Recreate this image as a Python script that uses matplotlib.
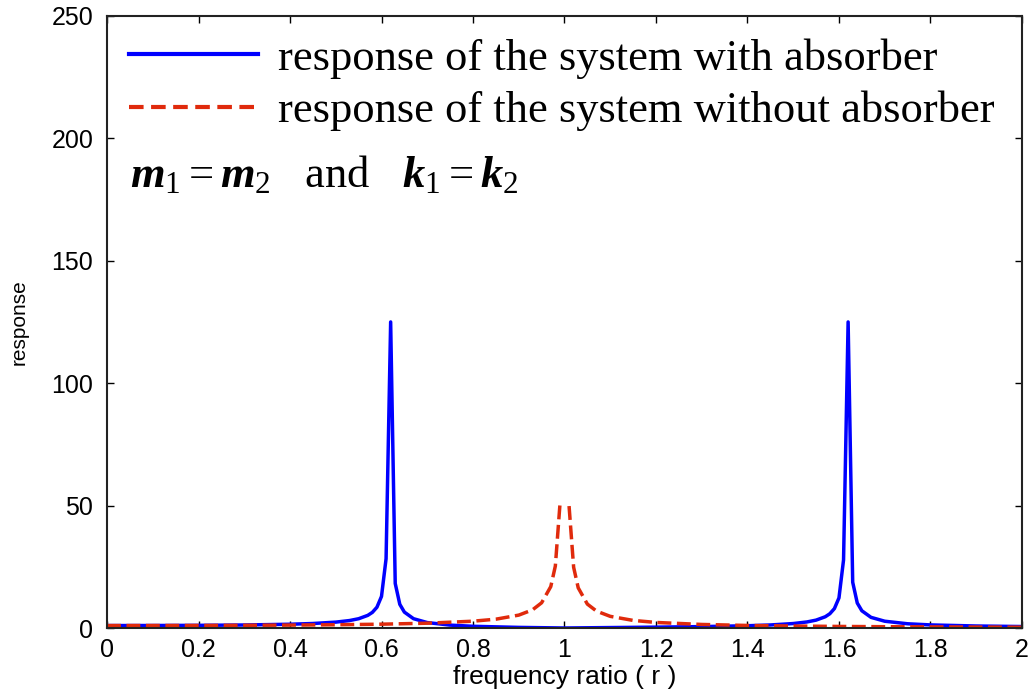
import numpy as np
import matplotlib
matplotlib.use('Agg')
import matplotlib.pyplot as plt
import matplotlib.ticker as ticker

plt.rcParams.update({
    'font.family': 'Liberation Sans',
    'mathtext.fontset': 'custom',
    'mathtext.rm': 'Liberation Serif',
    'mathtext.it': 'Liberation Serif:italic:bold',
})

# Data.
r_abs = [0, 0.1, 0.2, 0.3, 0.4, 0.45, 0.5, 0.53, 0.55, 0.57, 0.58, 0.59, 0.6,
         0.61, 0.62, 0.63, 0.64, 0.65, 0.67, 0.7, 0.75, 0.8, 0.9, 1.0, 1.1,
         1.2, 1.3, 1.4, 1.45, 1.5, 1.53, 1.55, 1.57, 1.58, 1.59, 1.6, 1.61,
         1.62, 1.63, 1.64, 1.65, 1.67, 1.7, 1.75, 1.8, 1.9, 2.0]
resp_abs = [1.0, 1.02, 1.09, 1.23, 1.54, 1.84, 2.4, 3.04, 3.79, 5.16, 6.38,
            8.48, 12.9, 28.3, 125.0, 18.2, 9.67, 6.49, 3.8, 2.22, 1.18, 0.7,
            0.25, 0.0, 0.18, 0.35, 0.57, 0.92, 1.24, 1.82, 2.47, 3.22, 4.59,
            5.82, 7.92, 12.3, 27.8, 125.0, 18.7, 10.2, 7.04, 4.35, 2.77, 1.73,
            1.26, 0.82, 0.6]

r_noabs = [0, 0.2, 0.4, 0.5, 0.6, 0.7, 0.8, 0.85, 0.9, 0.93, 0.95, 0.97,
           0.98, 0.99, 1.0, 1.01, 1.02, 1.03, 1.05, 1.07, 1.1, 1.15, 1.2, 1.3,
           1.4, 1.5, 1.6, 1.7, 1.8, 1.9, 2.0]
resp_noabs = [1.0, 1.04, 1.19, 1.33, 1.56, 1.96, 2.78, 3.6, 5.26, 7.4, 10.3,
              16.9, 25.3, 50.3, np.nan, 49.8, 24.8, 16.4, 9.76, 6.9, 4.76, 3.1,
              2.27, 1.45, 1.04, 0.8, 0.64, 0.53, 0.45, 0.38, 0.33]

x_ticks = [0, 0.2, 0.4, 0.6, 0.8, 1.0, 1.2, 1.4, 1.6, 1.8, 2.0]
y_ticks = [0, 50, 100, 150, 200, 250]

fig = plt.figure(figsize=(10.35, 6.94), dpi=100)
ax = fig.add_axes([0.1034, 0.0951, 0.884, 0.882])

ax.plot(r_abs, resp_abs, color='#0000ff', lw=2.5,
        label='response of the system with absorber')
ax.plot(r_noabs, resp_noabs, color='#e02a0c', lw=2.5, linestyle=(0, (4, 1.6)),
        label='response of the system without absorber')

ax.set_xlim(0, 2)
ax.set_ylim(0, 250)
ax.set_xticks(x_ticks)
ax.set_yticks(y_ticks)
ax.xaxis.set_major_formatter(ticker.FormatStrFormatter('%g'))
ax.tick_params(direction='in', length=5, width=1, labelsize=18,
               top=True, right=True)
ax.tick_params(axis='x', pad=7)
ax.tick_params(axis='y', pad=10)
for s in ax.spines.values():
    s.set_linewidth(1.5)
    s.set_color('#222222')

ax.set_xlabel('frequency ratio ( r )', fontsize=19, labelpad=2)
ax.set_ylabel('response', fontsize=15, labelpad=16)

leg = ax.legend(loc='upper left', bbox_to_anchor=(0.0, 1.0), frameon=False,
                prop={'family': 'Liberation Serif', 'size': 32},
                handlelength=2.9, handletextpad=0.45, labelspacing=0.27,
                borderaxespad=0.1)
for h in leg.get_lines():
    h.set_linewidth(3)
leg.get_lines()[1].set_linestyle((0, (3.5, 1.8)))

ax.text(0.025, 0.74, r'$m_1 = m_2$   and   $k_1 = k_2$',
        transform=ax.transAxes, fontsize=32, va='center', ha='left',
        family='Liberation Serif')

fig.savefig('out.png', dpi=100)
